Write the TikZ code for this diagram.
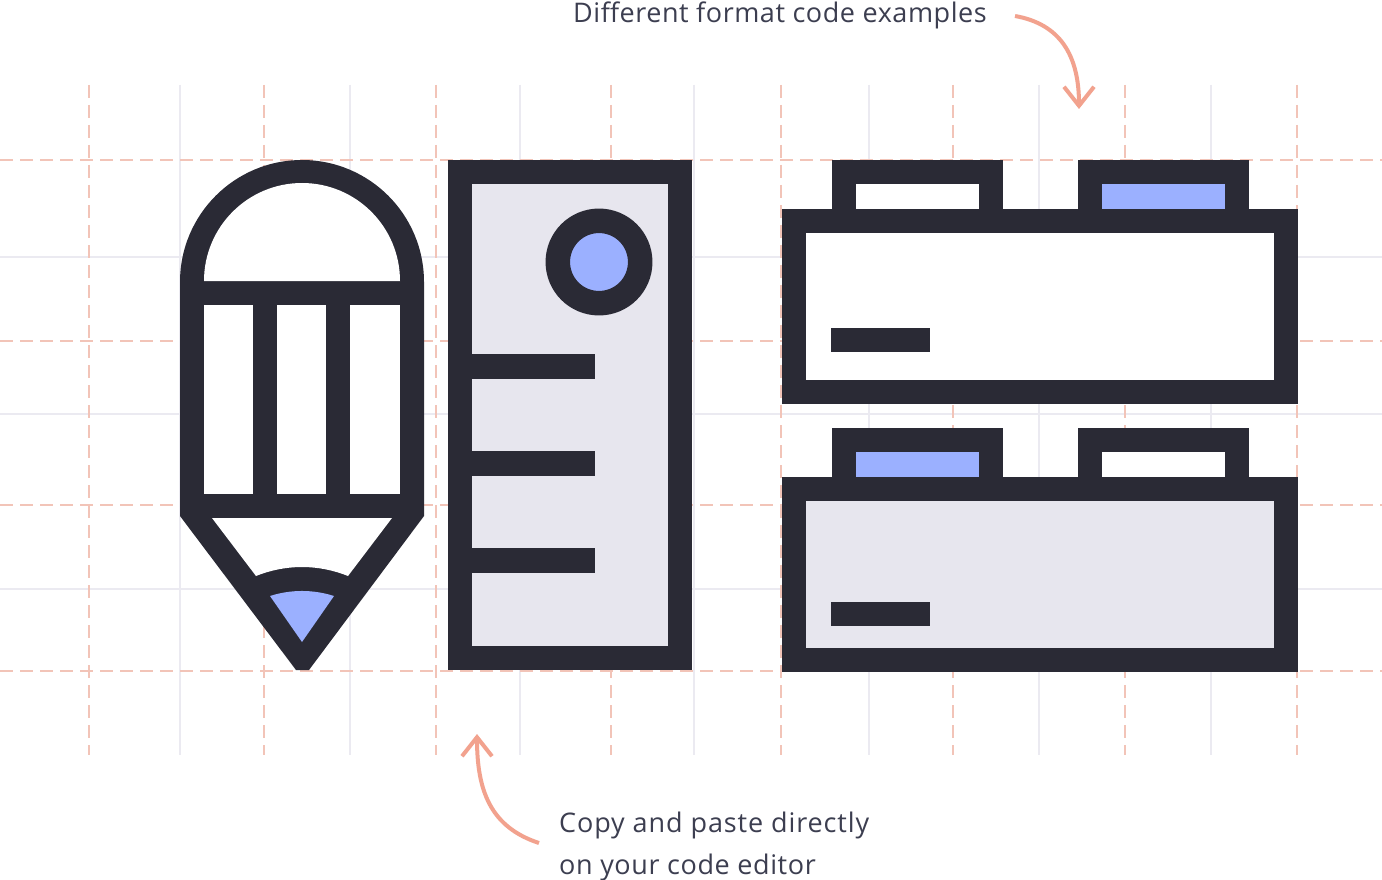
\documentclass[tikz,border=0pt]{standalone}
\usepackage{xcolor}
\usepackage{fontspec}
\setmainfont{Open Sans}[LetterSpace=2]
\usetikzlibrary{arrows.meta}
\definecolor{inkDark}{HTML}{2A2A35}
\definecolor{paleGrey}{HTML}{E7E6EE}
\definecolor{accentBlue}{HTML}{9BB0FF}
\definecolor{arrowSalmon}{HTML}{F2A28E}
\definecolor{guideSalmon}{HTML}{F2C4B8}
\definecolor{gridGrey}{HTML}{EBEAF1}
\definecolor{labelInk}{HTML}{3C3E50}

\begin{document}
\begin{tikzpicture}[
    x=1pt, y=-1pt,
    gridline/.style={gridGrey, line width=2pt},
    guideline/.style={guideSalmon, line width=2pt, dash pattern=on 13pt off 7pt},
    frame/.style={draw=inkDark, line width=24pt},
    inkfill/.style={fill=inkDark},
    callout/.style={arrowSalmon, line width=4pt, -{Straight Barb[length=19pt,width=30pt]}},
    label/.style={anchor=base west, inner sep=0pt, text=labelInk, font=\fontsize{27}{42}\selectfont}
  ]
  \useasboundingbox (0,0) rectangle (1382,880);
  \fill[white] (0,0) rectangle (1382,880);

  % grid
  \foreach \gx in {180,350,520,694,869,1039,1211}
    \draw[gridline] (\gx,85) -- (\gx,755);
  \foreach \gy in {257,414,589}
    \draw[gridline] (0,\gy) -- (1382,\gy);
  \foreach \gx in {89,264,436,611,781,953,1125,1297}
    \draw[guideline] (\gx,85) -- (\gx,755);
  \foreach \gy in {160,341,505,671}
    \draw[guideline] (0,\gy) -- (1382,\gy);

  % pencil
  \fill[inkfill] (180,516) -- (180,282) arc[start angle=180, end angle=360, radius=122] -- (424,516) -- (309,670) -- (296,670) -- cycle;
  \fill[white] (204,281) arc[start angle=180, end angle=360, radius=98] -- cycle;
  \foreach \cx/\cw in {204/253,277/326,350/400}
    \fill[white] (\cx,305) rectangle (\cw,494);
  \fill[white] (212,518) -- (392,518) -- (348,576) .. controls (318,564) and (286,564) .. (256,576) -- cycle;
  \fill[accentBlue] (270,596) .. controls (291,589.3) and (313,589.3) .. (334,596) -- (302,642) -- cycle;

  % ruler
  \draw[frame, fill=paleGrey] (460,172) rectangle (680,658);
  \draw[draw=inkDark, line width=24.5pt, fill=accentBlue] (599,262) circle[radius=41.2];
  \foreach \ty in {354,451,548}
    \fill[inkfill] (472,\ty) rectangle (594.5,\ty+24.5);

  % upper panel
  \draw[frame, fill=white] (843.5,172) rectangle (991,221);
  \draw[frame, fill=accentBlue] (1089.5,172) rectangle (1236.5,221);
  \draw[frame, fill=white] (794,221) rectangle (1286,392);
  \fill[inkfill] (831,328) rectangle (930,352);

  % lower panel
  \draw[frame, fill=accentBlue] (843.5,440) rectangle (991,489);
  \draw[frame, fill=white] (1089.5,440) rectangle (1236.5,489);
  \draw[frame, fill=paleGrey] (794,489) rectangle (1286,660);
  \fill[inkfill] (831,602) rectangle (930,626);

  % labels
  \node[label] (formatLabel) at (573,23) {Different format code examples};
  \node[label, align=left] (pasteLabel) at (559,874) {\addfontfeature{LetterSpace=3.3}Copy and paste directly\\\addfontfeature{LetterSpace=2.2}on your code editor};

  % callouts
  \coordinate (formatTail) at (1015,16);
  \coordinate (formatHead) at (1079,109);
  \coordinate (pasteTail) at (539,843);
  \coordinate (pasteHead) at (477,734);
  \draw[callout] (formatTail) .. controls (1060,24) and (1079,55) .. (formatHead);
  \draw[callout] (pasteTail) .. controls (490,827) and (477,790) .. (pasteHead);
\end{tikzpicture}
\end{document}
